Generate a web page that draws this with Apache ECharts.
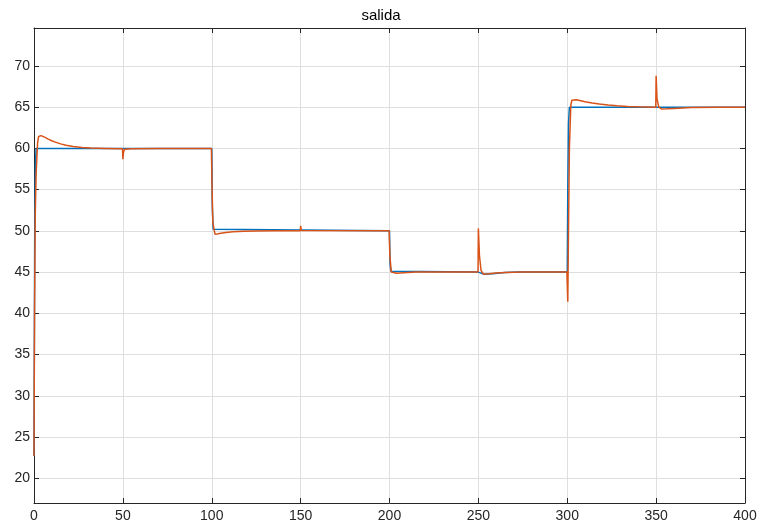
<!DOCTYPE html>
<html>
<head>
<meta charset="utf-8">
<script src="https://cdn.jsdelivr.net/npm/echarts@6/dist/echarts.min.js"></script>
<style>
    html, body { margin: 0; padding: 0; background: #fff; }
    #chart { width: 762px; height: 525px; }
</style>
</head>
<body>
<div id="chart"></div>
<script>
    // tick values
    const xTicks = [0, 50, 100, 150, 200, 250, 300, 350, 400];
    const yTicks = [20, 25, 30, 35, 40, 45, 50, 55, 60, 65, 70];

    // blue line (t, salida)
    const blueLine = [
        [0, 22.7], [0.4, 50], [0.8, 58], [1.2, 60], [100, 60],
        [100.3, 53], [100.8, 50.2], [101.5, 50], [200, 50],
        [200.3, 46], [200.8, 45.1], [201.5, 45], [250, 45],
        [251, 44.9], [253, 44.75], [258, 44.8], [265, 44.95], [272, 45], [300, 45],
        [300.3, 55], [300.7, 63], [301.2, 65], [400, 65]
    ];

    // orange line (t, salida)
    const orangeLine = [
        [0, 22.7], [0.3, 40], [0.7, 52], [1.2, 57], [2, 60.6], [2.6, 61.45], [3.2, 61.6],
        [4, 61.55], [5, 61.45], [6.5, 61.3], [8, 61.12], [10, 60.93], [12, 60.76],
        [15, 60.55], [18, 60.38], [22, 60.22], [27, 60.1], [32, 60.04], [40, 60.0],
        [49.8, 59.95], [50, 58.7], [50.4, 59.6], [51, 59.9], [55, 59.95], [70, 60],
        [99.8, 60], [100.2, 55], [100.6, 51], [101.8, 49.6], [103, 49.62], [105, 49.7],
        [108, 49.8], [112, 49.88], [118, 49.95], [125, 49.99], [135, 50], [149.8, 50], [150, 50.6],
        [150.4, 50.05], [151, 50], [199.8, 50], [200.2, 47], [201, 45],
        [202, 44.8], [204, 44.85], [208, 44.92], [215, 45], [249.8, 45], [250, 50.3],
        [250.6, 47], [251.5, 45.2], [252.8, 44.75], [256, 44.8], [260, 44.88], [265, 44.95],
        [275, 45], [299.8, 45], [300.3, 41.4], [300.7, 50], [301.2, 60],
        [302, 65.2], [302.6, 65.85], [303.2, 66], [305, 65.9], [307, 65.8], [310, 65.65],
        [314, 65.5], [318, 65.38], [323, 65.26], [328, 65.17], [334, 65.09], [340, 65.04],
        [349.8, 65], [350, 68.8], [350.5, 66],
        [351.5, 65], [353, 64.78], [356, 64.8], [360, 64.85], [365, 64.9], [370, 64.95], [385, 65], [400, 65]
    ];

    const axisColor = '#262626';
    const gridColor = '#dfdfdf';
    const font = 'Liberation Sans, Arial, Helvetica, sans-serif';

    const chart = echarts.init(document.getElementById('chart'));

    function xAxis(pos, showLabel) {
        return {
            type: 'value', position: pos, min: 0, max: 400, interval: 50,
            axisLine: { show: true, onZero: false, lineStyle: { color: axisColor, width: 1 } },
            axisTick: { show: true, inside: true, length: 5, lineStyle: { color: axisColor } },
            axisLabel: {
                show: showLabel, color: axisColor, fontSize: 14, fontFamily: font, margin: 6,
                customValues: xTicks
            },
            splitLine: { show: showLabel, lineStyle: { color: gridColor, width: 1 } }
        };
    }

    function yAxis(pos, showLabel) {
        return {
            type: 'value', position: pos, min: 17, max: 74.6,
            axisLine: { show: true, onZero: false, lineStyle: { color: axisColor, width: 1 } },
            axisTick: { show: true, inside: true, length: 5, customValues: yTicks, lineStyle: { color: axisColor } },
            axisLabel: {
                show: showLabel, color: axisColor, fontSize: 14, fontFamily: font, margin: 4,
                customValues: yTicks
            },
            splitLine: { show: showLabel, lineStyle: { color: gridColor, width: 1 } }
        };
    }

    chart.setOption({
        animation: false,
        title: {
            text: 'salida', left: 'center', top: 3,
            textStyle: { color: '#000', fontSize: 15, fontWeight: 'normal', fontFamily: font }
        },
        grid: { left: 34, right: 17, top: 28, bottom: 22 },
        xAxis: [xAxis('bottom', true), xAxis('top', false)],
        yAxis: [yAxis('left', true), yAxis('right', false)],
        series: [{
            name: 'blue', type: 'line', data: blueLine, showSymbol: false,
            lineStyle: { color: '#0072BD', width: 1.5 }, z: 2
        }, {
            name: 'orange', type: 'line', data: orangeLine, showSymbol: false,
            lineStyle: { color: '#D95319', width: 1.5 }, z: 3
        }]
    });
</script>
</body>
</html>
